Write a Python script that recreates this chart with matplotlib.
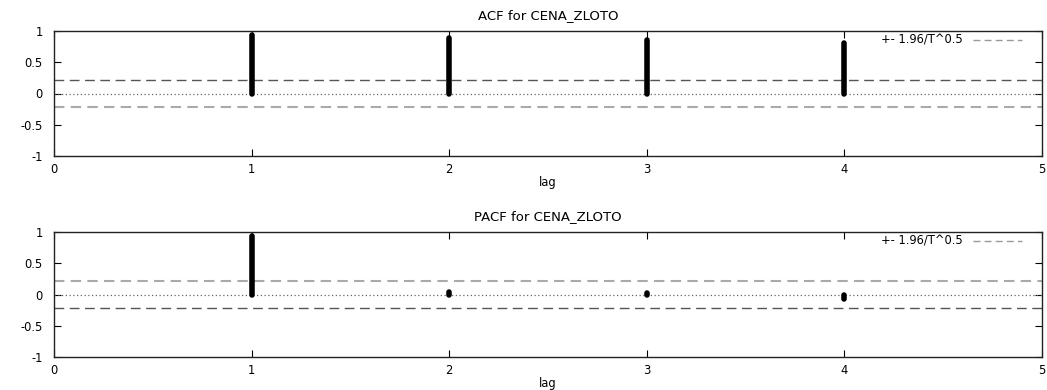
import numpy as np
import matplotlib
matplotlib.use("Agg")
import matplotlib.pyplot as plt

# correlogram values
lags = [1, 2, 3, 4]
acf_values = [0.93, 0.89, 0.85, 0.81]
pacf_values = [0.93, 0.04, 0.02, -0.07]
band = 0.21   # 1.96/T^0.5
series_name = "CENA_ZLOTO"
xticks = [0, 1, 2, 3, 4, 5]
yticks = [-1, -0.5, 0, 0.5, 1]
ytick_labels = ['-1', '-0.5', '0', '0.5', '1']

W, H = 1047, 390
fig = plt.figure(figsize=(W / 100, H / 100), dpi=100)
plt.rcParams['font.family'] = ['DejaVu Sans']
tick_fs = 8.3
title_fs = 9.5

def px_axes(left, top, right, bottom):
    return fig.add_axes([left / W, 1 - bottom / H, (right - left) / W, (bottom - top) / H])

def draw_panel(ax, values, title, upper_grey):
    ax.set_xlim(0, 5)
    ax.set_ylim(-1, 1)
    dark = dict(color='#555555', lw=1.0, dashes=(7, 4))
    grey = dict(color='#aaaaaa', lw=1.5, dashes=(5, 3))
    # confidence band lines (the colours swap between the two panels)
    ax.axhline(band, **(grey if upper_grey else dark))
    ax.axhline(-band, **(dark if upper_grey else grey))
    ax.axhline(0, color='#666666', lw=0.9, dashes=(1, 2))
    ax.vlines(lags, 0, values, color='black', lw=4.0, capstyle='round')
    ax.set_xticks(xticks)
    ax.set_yticks(yticks)
    ax.set_yticklabels(ytick_labels)
    ax.tick_params(axis='both', direction='in', length=5, width=0.8, labelsize=tick_fs,
                   top=True, right=True, colors='black')
    ax.tick_params(axis='y', pad=8)
    ax.tick_params(axis='x', pad=5)
    for s in ax.spines.values():
        s.set_linewidth(1.0)
        s.set_color('#222222')
    ax.text(0.5, 1.12, title, transform=ax.transAxes, fontsize=title_fs,
            ha='center', va='center')
    ax.text(0.5, -0.215, 'lag', transform=ax.transAxes, fontsize=tick_fs,
            ha='center', va='center')
    ax.text(0.92, 0.925, '+- 1.96/T^0.5', transform=ax.transAxes, fontsize=tick_fs,
            ha='right', va='center')
    ax.plot([0.93, 0.98], [0.925, 0.925], transform=ax.transAxes, color='#999999',
            lw=1.0, dashes=(5, 3))

ax1 = px_axes(54, 31, 1042, 156)
draw_panel(ax1, acf_values, 'ACF for ' + series_name, upper_grey=False)
ax2 = px_axes(54, 232, 1042, 357)
draw_panel(ax2, pacf_values, 'PACF for ' + series_name, upper_grey=True)

fig.savefig('out.png', dpi=100)
